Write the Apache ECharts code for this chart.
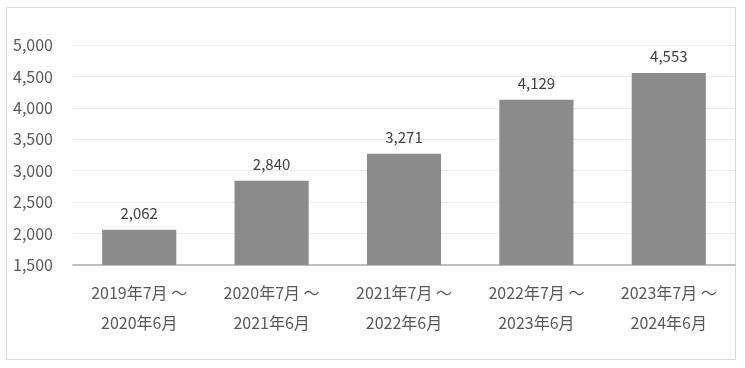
<!DOCTYPE html>
<html><head><meta charset="utf-8">
<script src="https://cdn.jsdelivr.net/npm/echarts@6/dist/echarts.min.js"></script>
<style>html,body{margin:0;padding:0;background:#fff}#c{width:745px;height:368px}</style>
</head><body><div id="c"></div>
<script>
const categories = ['2019年7月 ～\n2020年6月','2020年7月 ～\n2021年6月','2021年7月 ～\n2022年6月','2022年7月 ～\n2023年6月','2023年7月 ～\n2024年6月'];
const values = [2062, 2840, 3271, 4129, 4553];
const yMin = 1500, yMax = 5000, yStep = 500;

const chart = echarts.init(document.getElementById('c'));
const font = '"Noto Sans CJK JP", "Noto Sans", sans-serif';
chart.setOption({
  animation: false,
  graphic: [{type:'rect', shape:{x:6.5,y:7.5,width:729,height:352}, style:{fill:'none',stroke:'#d9d9d9',lineWidth:1}, z:-1}],
  grid: {left:73, right:10, top:45, bottom:103},
  xAxis: {
    type:'category', data: categories,
    axisTick:{show:false},
    axisLine:{lineStyle:{color:'#bfbfbf', width:2}},
    axisLabel:{color:'#595959', fontSize:16, fontFamily:font, lineHeight:30, margin:13}
  },
  yAxis: {
    type:'value', min:yMin, max:yMax, interval:yStep,
    axisLabel:{color:'#595959', fontSize:16, fontFamily:font, margin:20,
      formatter: v => v.toLocaleString('en-US')},
    splitLine:{lineStyle:{color:'#ececec', width:1}},
    axisLine:{show:false}, axisTick:{show:false}
  },
  series: [{
    type:'bar', data: values, barWidth:'56%',
    itemStyle:{color:'#8c8c8c'},
    label:{show:true, position:'top', distance:9, color:'#404040', fontSize:15, fontFamily:font,
      formatter: p => p.value.toLocaleString('en-US')}
  }]
});
</script></body></html>
